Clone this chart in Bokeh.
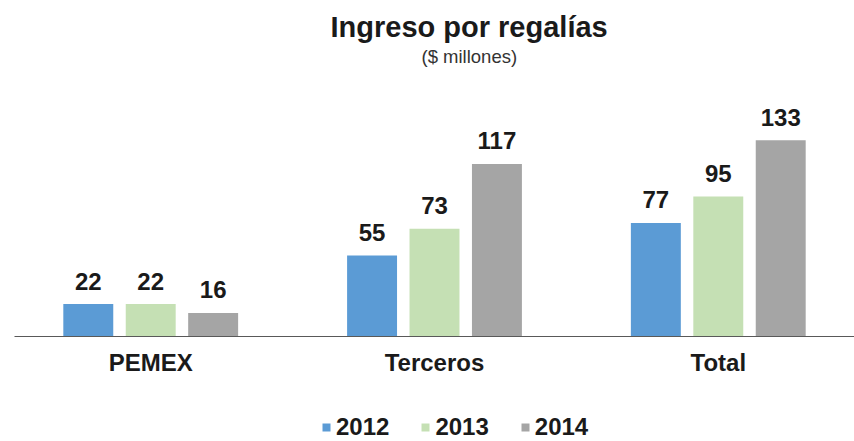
from bokeh.plotting import figure
from bokeh.layouts import column
from bokeh.models import ColumnDataSource, FactorRange, Range1d, Legend, LegendItem, Title
from bokeh.transform import dodge
from bokeh.core.properties import value
from bokeh.embed import file_html
from bokeh.resources import INLINE

categories = ["PEMEX", "Terceros", "Total"]
years = ["2012", "2013", "2014"]
ingreso_2012 = [22, 55, 77]
ingreso_2013 = [22, 73, 95]
ingreso_2014 = [16, 117, 133]
colors = ["#5B9BD5", "#C5E0B4", "#A5A5A5"]

FONT = "Liberation Sans"
TEXT = "#1a1a1a"

series = {"2012": ingreso_2012, "2013": ingreso_2013, "2014": ingreso_2014}
data = {"cat": categories}
for yr in years:
    data["y" + yr] = series[yr]
    data["t" + yr] = [str(v) for v in series[yr]]
source = ColumnDataSource(data)

# ---- main chart ----
p = figure(
    width=854, height=404,
    x_range=FactorRange(factors=categories, range_padding=-0.02, range_padding_units="absolute"),
    y_range=Range1d(0, 160),
    output_backend="svg", toolbar_location=None,
    min_border_left=14, min_border_right=0, min_border_top=100, min_border_bottom=68,
)

offsets = [-0.22, 0.0, 0.22]
for yr, col, off in zip(years, colors, offsets):
    p.vbar(x=dodge("cat", off, range=p.x_range), top="y" + yr, width=0.176,
           source=source, fill_color=col, line_color=None)
    p.text(x=dodge("cat", off, range=p.x_range), y="y" + yr, text="t" + yr, source=source,
           text_align="center", text_baseline="alphabetic", y_offset=-23,
           text_font=value(FONT), text_font_style="bold", text_font_size="24px",
           text_color=TEXT)

p.yaxis.visible = False
p.xgrid.grid_line_color = None
p.ygrid.grid_line_color = None
p.outline_line_color = None
p.background_fill_color = "white"
p.border_fill_color = "white"

ax = p.xaxis[0]
ax.axis_line_color = "#595959"
ax.axis_line_width = 1.2
ax.major_tick_line_color = None
ax.minor_tick_line_color = None
ax.major_label_text_font = FONT
ax.major_label_text_font_style = "bold"
ax.major_label_text_font_size = "24px"
ax.major_label_text_color = TEXT
ax.major_label_standoff = 6

spacer = Title(text=" ", text_font_size="1px", standoff=31)
sub = Title(text="($ millones)", align="left", offset=407, text_font=FONT,
            text_font_size="18.5px", text_font_style="normal", text_color="#333333", standoff=0)
main = Title(text="Ingreso por regalías", align="left", offset=316, text_font=FONT,
             text_font_size="29px", text_font_style="bold", text_color=TEXT, standoff=1)
p.add_layout(spacer, "above")
p.add_layout(sub, "above")
p.add_layout(main, "above")

# ---- legend strip (zero-width swatch renderers, only used for the legend keys) ----
lg = figure(
    width=854, height=37,
    x_range=FactorRange(factors=categories), y_range=Range1d(-1000, -990),
    output_backend="svg", toolbar_location=None,
    x_axis_location=None, y_axis_location=None,
    min_border_left=0, min_border_right=0, min_border_top=0, min_border_bottom=0,
)
lg.grid.visible = False
lg.outline_line_color = None
lg.background_fill_color = "white"
lg.border_fill_color = "white"

swatches = []
for yr, col, off in zip(years, colors, offsets):
    swatches.append(lg.vbar(x=dodge("cat", off, range=lg.x_range), top="y" + yr, width=0,
                            source=source, fill_color=col, line_color=None))

legend = Legend(
    items=[LegendItem(label=yr, renderers=[r]) for yr, r in zip(years, swatches)],
    orientation="horizontal", location=(307, 0),
    label_text_font=FONT, label_text_font_style="bold", label_text_font_size="24px",
    label_text_color=TEXT, glyph_width=10, glyph_height=10, label_standoff=5,
    spacing=31, padding=0, margin=0, border_line_color=None, background_fill_alpha=0,
)
lg.add_layout(legend, "center")

layout = column(p, lg, spacing=0)
open("out.html", "w").write(file_html(layout, INLINE))
